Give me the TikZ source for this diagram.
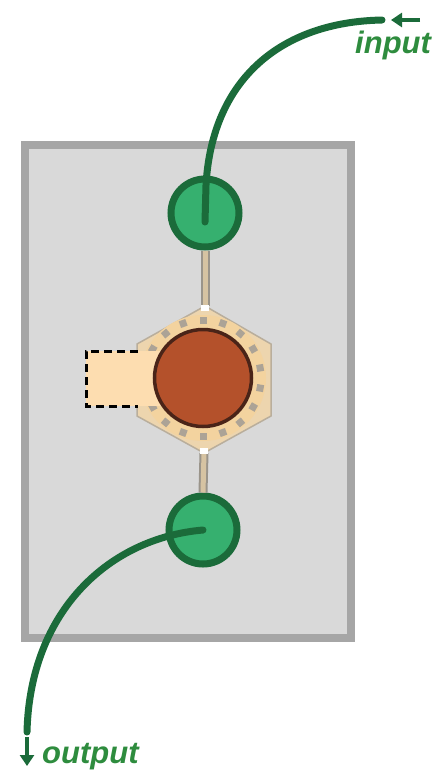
\documentclass[tikz,border=0pt]{standalone}
\usepackage{fontspec}
\setmainfont{Liberation Sans}
\usetikzlibrary{arrows.meta}
\definecolor{dgreen}{HTML}{1B6B3A}
\definecolor{cgreen}{HTML}{36B06F}
\definecolor{tgreen}{HTML}{2E8C3E}
\definecolor{boxfill}{HTML}{D9D9D9}
\definecolor{boxline}{HTML}{A6A6A6}
\definecolor{hexfill}{HTML}{EDD5AE}
\definecolor{hexline}{HTML}{B9AE9C}
\definecolor{ringfill}{HTML}{F3D39F}
\definecolor{sqgray}{HTML}{ACA396}
\definecolor{brown}{HTML}{B4512B}
\definecolor{browndk}{HTML}{4A2418}
\definecolor{peach}{HTML}{FDDDB0}
\definecolor{stemfill}{HTML}{D6C3A2}
\definecolor{stemline}{HTML}{9A948A}
\tikzset{
  port/.style={circle, draw=dgreen, fill=cgreen, line width=7pt, minimum size=68pt, inner sep=0pt},
  flow/.style={draw=dgreen, line width=7pt, line cap=round},
  tiparrow/.style={draw=dgreen, line width=4pt, -{Triangle[length=11pt,width=14pt]}},
  lbl/.style={text=tgreen, font=\fontsize{31}{31}\selectfont\bfseries\itshape, inner sep=0pt},
}
\begin{document}
\begin{tikzpicture}[x=1pt,y=-1pt]
\useasboundingbox (0,0) rectangle (438,772);
% outer box
\draw[fill=boxfill, draw=boxline, line width=8pt] (25,145) rectangle (351,638);
% ports
\node[port] (in) at (205,213) {};
\node[port] (out) at (203,530) {};
% hexagon coordinates
\coordinate (hextop) at (205,306);
\coordinate (hexbot) at (204,453);
% stems
\draw[stemline, line width=9pt] (in.south) -- (hextop);
\draw[stemfill, line width=5pt] (in.south) -- (hextop);
\draw[stemline, line width=9pt] (out.north) -- (hexbot);
\draw[stemfill, line width=5pt] (out.north) -- (hexbot);
% hexagon
\draw[fill=hexfill, draw=hexline, line width=1.5pt]
  (hextop) -- (137,344) -- (137,416) -- (hexbot) -- (271,416) -- (271,344) -- cycle;
\fill[white] (201,305) rectangle (209,311);
\fill[white] (200,448) rectangle (208,454);
% ring
\fill[ringfill] (203,378) circle (63);
\foreach \a in {10,30,...,350}
  \fill[sqgray, shift={(203,378)}, rotate=\a] (54.5,-3.5) rectangle (61.5,3.5);
% dashed side box
\fill[peach] (86,351) rectangle (165,406);
\draw[black, line width=3pt, dash pattern=on 8pt off 5pt] (138,351) -- (86,351) -- (86,406) -- (138,406);
% core
\node[circle, fill=brown, draw=browndk, line width=3.5pt, minimum size=97pt, inner sep=0pt] (core) at (203,378) {};
% flows
\coordinate (inend) at (382,20);
\coordinate (outend) at (27,732);
\coordinate (instart) at (205,222);
\draw[flow] (instart) -- (206,185) .. controls (212,80) and (280,22) .. (inend);
\draw[flow] (out.center) .. controls (110,538) and (30,610) .. (outend);
% small arrows
\coordinate (ina) at (420,20);
\coordinate (inb) at (391,20);
\draw[tiparrow] (ina) -- (inb);
\coordinate (outa) at (27,737);
\coordinate (outb) at (27,766);
\draw[tiparrow] (outa) -- (outb);
% labels
\node[lbl, anchor=base west] (inlbl) at (355,53) {input};
\node[lbl, anchor=base west] (outlbl) at (42,763) {output};
\end{tikzpicture}
\end{document}
